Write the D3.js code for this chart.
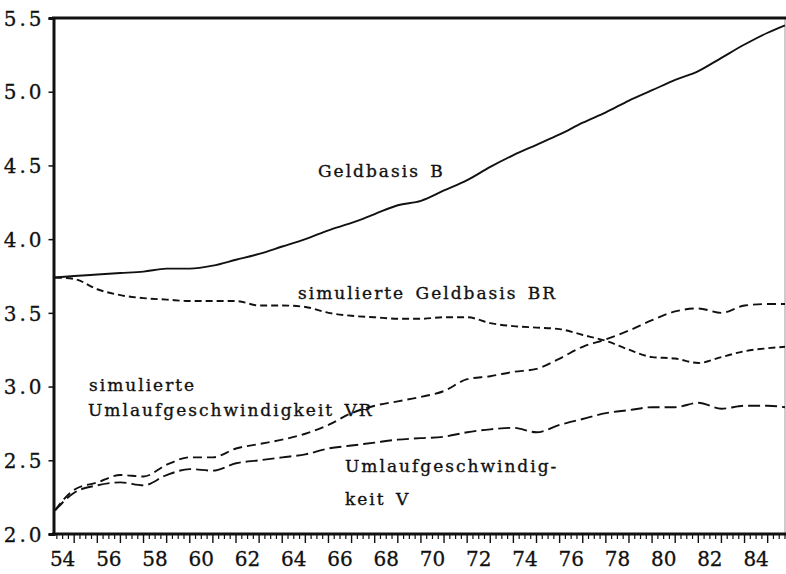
<!DOCTYPE html>
<html>
<head>
<meta charset="utf-8">
<script src="https://cdn.jsdelivr.net/npm/d3@7"></script>
<style>
  body { margin: 0; background: #fff; }
  svg { display: block; }
</style>
</head>
<body>
<div id="chart"></div>
<script>
const years = [54.17, 55, 56, 57, 58, 59, 60, 61, 62, 63, 64, 65, 66, 67, 68, 69, 70,
  71, 72, 73, 74, 75, 76, 77, 78, 79, 80, 81, 82, 83, 84, 85, 85.75];

const geldbasisB = [3.74, 3.75, 3.76, 3.77, 3.78, 3.80, 3.80, 3.82, 3.86, 3.90, 3.95, 4.00, 4.06,
  4.11, 4.17, 4.23, 4.26, 4.33, 4.40, 4.49, 4.57, 4.64, 4.71, 4.79, 4.86, 4.94, 5.01,
  5.08, 5.14, 5.23, 5.32, 5.40, 5.45];

const simGeldbasisBR = [3.74, 3.73, 3.66, 3.62, 3.60, 3.59, 3.58, 3.58, 3.58, 3.55, 3.55, 3.54, 3.50,
  3.48, 3.47, 3.46, 3.46, 3.47, 3.47, 3.43, 3.41, 3.40, 3.39, 3.35, 3.31, 3.25, 3.20,
  3.19, 3.16, 3.20, 3.24, 3.26, 3.27];

const simUmlaufVR = [2.16, 2.30, 2.35, 2.40, 2.39, 2.47, 2.52, 2.52, 2.58, 2.61, 2.64, 2.68, 2.74,
  2.82, 2.87, 2.90, 2.93, 2.97, 3.05, 3.07, 3.10, 3.12, 3.19, 3.27, 3.32, 3.38, 3.45,
  3.51, 3.53, 3.50, 3.55, 3.56, 3.56];

const umlaufV = [2.16, 2.28, 2.33, 2.35, 2.33, 2.40, 2.44, 2.43, 2.48, 2.50, 2.52, 2.54, 2.58,
  2.60, 2.62, 2.64, 2.65, 2.66, 2.69, 2.71, 2.72, 2.69, 2.74, 2.78, 2.82, 2.84, 2.86,
  2.86, 2.89, 2.85, 2.87, 2.87, 2.86];

const yTicks = [2.0, 2.5, 3.0, 3.5, 4.0, 4.5, 5.0, 5.5];
const xLabelYears = [54, 56, 58, 60, 62, 64, 66, 68, 70, 72, 74, 76, 78, 80, 82, 84];

const W = 786, H = 574;
const plot = { left: 55, right: 785, top: 18, bottom: 534 };

const svg = d3.select("#chart").append("svg")
  .attr("width", W)
  .attr("height", H);

const x = d3.scaleLinear().domain([54.17, 85.75]).range([plot.left, plot.right]);
const y = d3.scaleLinear().domain([2.0, 5.5]).range([plot.bottom, plot.top]);

// frame
svg.append("line")
  .attr("x1", plot.right).attr("x2", plot.right).attr("y1", plot.top).attr("y2", plot.bottom)
  .attr("stroke", "#999").attr("stroke-width", 1);
svg.append("line")
  .attr("x1", plot.left - 3).attr("x2", W).attr("y1", plot.top).attr("y2", plot.top)
  .attr("stroke", "#111").attr("stroke-width", 3);

// y axis
const yAxis = svg.append("g")
  .attr("transform", `translate(${plot.left - 1.5},0)`)
  .call(d3.axisLeft(y).tickValues(yTicks).tickSize(5).tickPadding(4).tickFormat(d3.format(".1f")))
  .attr("font-family", "DejaVu Serif")
  .attr("font-size", 20);
yAxis.select(".domain").attr("stroke", "#111").attr("stroke-width", 3);
yAxis.selectAll(".tick line").attr("stroke", "#111").attr("stroke-width", 1.5);
yAxis.selectAll(".tick text")
  .attr("letter-spacing", 3)
  .attr("fill", "#111")
  .attr("stroke", "#111")
  .attr("stroke-width", 0.3)
  .attr("dy", "0.36em");

// x axis: quarter ticks, yearly long ticks
const quarters = d3.range(54.25, 85.76, 0.25).filter((q) => !Number.isInteger(q));
const fullYears = d3.range(55, 86);
const xg = svg.append("g").attr("transform", `translate(0,${plot.bottom})`);
xg.append("line")
  .attr("x1", plot.left - 3).attr("x2", W).attr("y1", 0).attr("y2", 0)
  .attr("stroke", "#111").attr("stroke-width", 3);
xg.selectAll(".qtick").data(quarters).enter().append("line")
  .attr("x1", (d) => x(d)).attr("x2", (d) => x(d))
  .attr("y1", 0).attr("y2", 5)
  .attr("stroke", "#111").attr("stroke-width", 1.2);
xg.selectAll(".ytick").data(fullYears).enter().append("line")
  .attr("x1", (d) => x(d)).attr("x2", (d) => x(d))
  .attr("y1", 0).attr("y2", 9)
  .attr("stroke", "#111").attr("stroke-width", 1.4);
xg.selectAll(".xlbl").data(xLabelYears).enter().append("text")
  .attr("font-family", "DejaVu Serif")
  .attr("font-size", 20)
  .attr("fill", "#111")
  .attr("stroke", "#111")
  .attr("stroke-width", 0.3)
  .attr("x", (d) => x(d + 0.5))
  .attr("y", 32)
  .attr("text-anchor", "middle")
  .text((d) => d);

// series
const series = [
  { values: geldbasisB, dash: null },
  { values: simGeldbasisBR, dash: "7,4" },
  { values: simUmlaufVR, dash: "9,5" },
  { values: umlaufV, dash: "12,5" }
];

const line = d3.line()
  .x((d) => x(d[0]))
  .y((d) => y(d[1]))
  .curve(d3.curveMonotoneX);

series.forEach((s) => {
  svg.append("path")
    .datum(years.map((yr, i) => [yr, s.values[i]]))
    .attr("d", line)
    .attr("fill", "none")
    .attr("stroke", "#111")
    .attr("stroke-width", 1.9)
    .attr("stroke-dasharray", s.dash);
});

// labels
const labels = [
  { text: "Geldbasis B", x: 318, y: 177 },
  { text: "simulierte Geldbasis BR", x: 298, y: 299 },
  { text: "simulierte", x: 89, y: 391 },
  { text: "Umlaufgeschwindigkeit VR", x: 88, y: 416 },
  { text: "Umlaufgeschwindig-", x: 345, y: 472 },
  { text: "keit V", x: 345, y: 505 }
];
svg.selectAll(".lbl").data(labels).enter().append("text")
  .attr("font-family", "DejaVu Serif")
  .attr("font-size", 17)
  .attr("letter-spacing", 2)
  .attr("word-spacing", 3)
  .attr("fill", "#111")
  .attr("stroke", "#111")
  .attr("stroke-width", 0.35)
  .attr("x", (d) => d.x)
  .attr("y", (d) => d.y)
  .text((d) => d.text);
</script>
</body>
</html>
